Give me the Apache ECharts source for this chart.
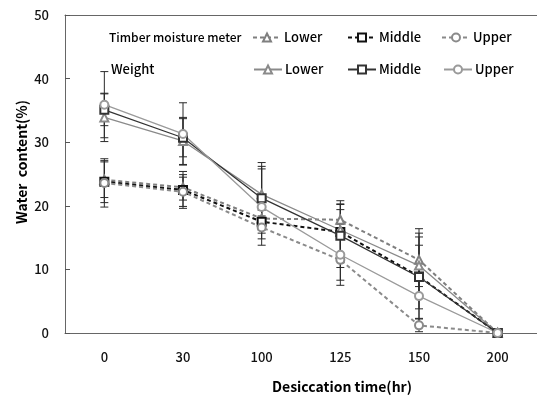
<!DOCTYPE html>
<html>
<head>
<meta charset="utf-8">
<script src="https://cdn.jsdelivr.net/npm/echarts@6/dist/echarts.min.js"></script>
<style>html,body{margin:0;padding:0;background:#fff}#c{width:537px;height:399px}</style>
</head>
<body>
<div id="c"></div>
<script>
var categories = ['0', '30', '100', '125', '150', '200'];
var yTicks = [0, 10, 20, 30, 40, 50];

var tmLower  = [24.1, 22.9, 18.0, 17.8, 11.5, 0];
var tmMiddle = [23.8, 22.5, 17.5, 15.9, 8.9, 0];
var tmUpper  = [23.6, 22.2, 16.6, 11.5, 1.2, 0];
var wLower   = [33.9, 30.2, 21.8, 16.2, 10.6, 0];
var wMiddle  = [35.1, 30.7, 21.2, 15.3, 8.8, 0];
var wUpper   = [35.9, 31.3, 19.8, 12.3, 5.8, 0];

var tmLowerErr  = [2.8, 2.0, 1.5, 3.0, 4.2, 0];
var tmMiddleErr = [3.3, 2.9, 1.8, 3.5, 7.5, 0];
var tmUpperErr  = [3.8, 2.3, 1.8, 3.2, 1.0, 0];
var wLowerErr   = [3.8, 3.7, 5.0, 4.0, 4.5, 0];
var wMiddleErr  = [2.5, 3.0, 5.0, 5.0, 5.0, 0];
var wUpperErr   = [5.2, 4.9, 6.0, 4.8, 3.5, 0];

var FONT = '"Noto Sans CJK KR", "Noto Sans", sans-serif';

var defs = [
  {name: 'TM Lower',  data: tmLower,  err: tmLowerErr,  sym: 'emptyTriangle', color: '#7f7f7f', type: [4, 3], width: 2},
  {name: 'TM Middle', data: tmMiddle, err: tmMiddleErr, sym: 'emptyRect',     color: '#111111', type: [4, 3], width: 2},
  {name: 'TM Upper',  data: tmUpper,  err: tmUpperErr,  sym: 'emptyCircle',   color: '#8a8a8a', type: [4, 3], width: 2},
  {name: 'W Lower',   data: wLower,   err: wLowerErr,   sym: 'emptyTriangle', color: '#8a8a8a', type: 'solid', width: 1.3},
  {name: 'W Middle',  data: wMiddle,  err: wMiddleErr,  sym: 'emptyRect',     color: '#333333', type: 'solid', width: 1.3},
  {name: 'W Upper',   data: wUpper,   err: wUpperErr,   sym: 'emptyCircle',   color: '#9a9a9a', type: 'solid', width: 1.3}
];

function errRender(params, api) {
  var i = api.value(0);
  var lo = api.coord([i, api.value(1)]);
  var hi = api.coord([i, api.value(2)]);
  var w = 4;
  var st = {stroke: '#2a2a2a', lineWidth: 1};
  return {type: 'group', children: [
    {type: 'line', shape: {x1: lo[0], y1: lo[1], x2: hi[0], y2: hi[1]}, style: st},
    {type: 'line', shape: {x1: lo[0] - w, y1: lo[1], x2: lo[0] + w, y2: lo[1]}, style: st},
    {type: 'line', shape: {x1: hi[0] - w, y1: hi[1], x2: hi[0] + w, y2: hi[1]}, style: st}
  ]};
}

var series = [];
defs.forEach(function (d) {
  series.push({
    type: 'custom', name: d.name + ' err', renderItem: errRender, z: 1, silent: true,
    data: d.data.map(function (v, i) { return [i, Math.max(0, v - d.err[i]), v + d.err[i]]; })
  });
});
defs.forEach(function (d) {
  series.push({
    type: 'line', name: d.name, data: d.data, symbol: d.sym, symbolSize: 8, z: 3,
    lineStyle: {color: d.color, type: d.type, width: d.width},
    itemStyle: {color: d.color, borderColor: d.color, borderWidth: 1.2},
    emphasis: {disabled: true}
  });
});

var legendPos = [[252, 31], [347, 31], [441, 31], [253, 63], [347, 63], [443, 63]];
var legends = defs.map(function (d, k) {
  return {
    data: [d.name], left: legendPos[k][0], top: legendPos[k][1], padding: 0,
    itemWidth: 28, itemHeight: 10, itemGap: 0, selectedMode: false,
    formatter: function (n) { return n.split(' ')[1]; },
    textStyle: {fontFamily: FONT, fontSize: 13, fontWeight: 500, color: '#000', padding: [0, 0, 0, -2]}
  };
});

var chart = echarts.init(document.getElementById('c'), null, {renderer: 'canvas'});
chart.setOption({
  animation: false,
  backgroundColor: '#fff',
  grid: {left: 65, right: -1, top: 15, bottom: 66},
  legend: legends,
  xAxis: [{
    type: 'category', data: categories, boundaryGap: true,
    axisLine: {lineStyle: {color: '#666', width: 1}},
    axisTick: {inside: true, length: 5, lineStyle: {color: '#555'}},
    axisLabel: {fontFamily: FONT, fontSize: 13, fontWeight: 500, color: '#111', margin: 18}
  }, {
    type: 'category', position: 'top', data: categories,
    axisLine: {lineStyle: {color: '#666', width: 1}},
    axisTick: {show: false}, axisLabel: {show: false}
  }],
  yAxis: {
    type: 'value', min: 0, max: 50, interval: 10,
    axisLine: {show: true, lineStyle: {color: '#666', width: 1}},
    axisTick: {show: true, inside: true, length: 5, lineStyle: {color: '#555'}},
    splitLine: {show: false},
    axisLabel: {fontFamily: FONT, fontSize: 13, fontWeight: 500, color: '#111', margin: 16,
      formatter: function (v) { return yTicks.indexOf(v) >= 0 ? String(v) : ''; }}
  },
  graphic: [
    {type: 'text', left: 109, top: 31, style: {text: 'Timber moisture meter', font: '500 12px ' + FONT, fill: '#000'}},
    {type: 'text', left: 111, top: 63, style: {text: 'Weight', font: '500 13px ' + FONT, fill: '#000'}},
    {type: 'text', x: 22, y: 162, rotation: Math.PI / 2, style: {text: 'Water  content(%)', font: 'bold 14px ' + FONT, fill: '#000', align: 'center', verticalAlign: 'middle'}},
    {type: 'text', x: 342, y: 387, style: {text: 'Desiccation time(hr)', font: 'bold 14px ' + FONT, fill: '#000', align: 'center', verticalAlign: 'middle'}}
  ],
  series: series
});
</script>
</body>
</html>
